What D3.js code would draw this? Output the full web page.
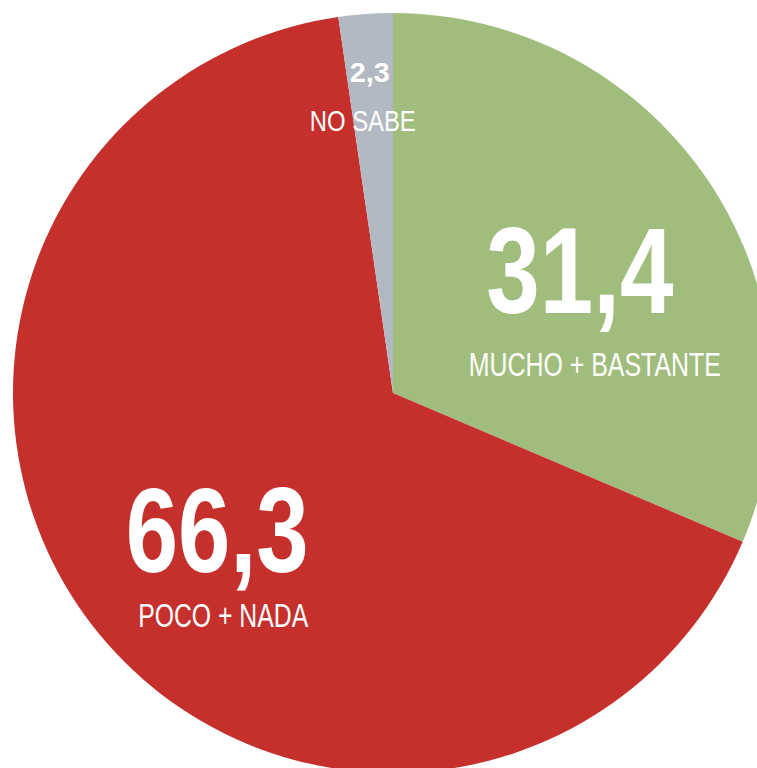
<!DOCTYPE html>
<html>
<head>
<meta charset="utf-8">
<script src="https://cdn.jsdelivr.net/npm/d3@7"></script>
<style>
    body {margin: 0; background: #fff;}
    svg {display: block;}
    .pie-label {font-family: "Liberation Sans", Arial, Helvetica, sans-serif; fill: #fff; text-anchor: middle;}
    .big {font-weight: bold;}
</style>
</head>
<body>
<div id="chart"></div>
<script>

    let categories = ["MUCHO + BASTANTE", "POCO + NADA", "NO SABE"];
    let values = [31.4, 66.3, 2.3];
    let valueLabels = ["31,4", "66,3", "2,3"];
    let colors = ["#a1bd7d", "#c5302d", "#b3b9c2"];

    let width = 757, height = 768;
    let cx = 393, cy = 393, radius = 380;

    // label layout per slice: radius of the number, sizes, offsets of the caption
    let layout = [
        {r: 224, numSize: 123, numLen: 187, capSize: 34, capLen: 252, capDx: 15, capDy: 63},
        {r: 222, numSize: 121, numLen: 183, capSize: 33, capLen: 170, capDx: 6, capDy: 55},
        {r: 322, numSize: 28, numLen: 40, capSize: 29, capLen: 106, capDx: -7, capDy: 49}
    ];

    let data = categories.map(function(c, i) {
        return {name: c, value: values[i], label: valueLabels[i], color: colors[i], lay: layout[i]};
    });

    let svg = d3.select("#chart")
        .append("svg")
        .attr("width", width)
        .attr("height", height);

    let g = svg.append("g")
        .attr("transform", "translate(" + cx + "," + cy + ")");

    let pie = d3.pie()
        .sort(null)
        .value(function(d) { return d.value; });

    let arc = d3.arc()
        .innerRadius(0)
        .outerRadius(radius);

    let arcs = pie(data);

    g.selectAll("path")
        .data(arcs)
        .enter().append("path")
        .attr("d", arc)
        .style("fill", function(d) { return d.data.color; });

    let labels = g.selectAll(".lbl")
        .data(arcs)
        .enter().append("g")
        .attr("class", "lbl")
        .attr("transform", function(d) {
            let a = (d.startAngle + d.endAngle) / 2;
            let r = d.data.lay.r;
            return "translate(" + (Math.sin(a) * r) + "," + (-Math.cos(a) * r) + ")";
        });

    labels.append("text")
        .attr("class", "pie-label big")
        .attr("y", function(d) { return d.data.lay.numSize * 0.358; })
        .style("font-size", function(d) { return d.data.lay.numSize + "px"; })
        .attr("textLength", function(d) { return d.data.lay.numLen; })
        .attr("lengthAdjust", "spacingAndGlyphs")
        .text(function(d) { return d.data.label; });

    labels.append("text")
        .attr("class", "pie-label")
        .attr("x", function(d) { return d.data.lay.capDx; })
        .attr("y", function(d) { return d.data.lay.numSize * 0.358 + d.data.lay.capDy; })
        .style("font-size", function(d) { return d.data.lay.capSize + "px"; })
        .attr("textLength", function(d) { return d.data.lay.capLen; })
        .attr("lengthAdjust", "spacingAndGlyphs")
        .text(function(d) { return d.data.name; });

</script>
</body>
</html>
